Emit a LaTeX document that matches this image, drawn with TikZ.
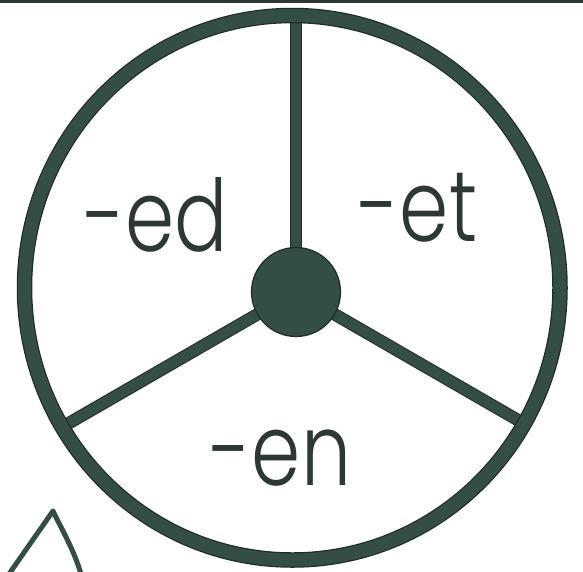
\documentclass[tikz,border=0pt]{standalone}
\usepackage{graphicx}
\usepackage{fontspec}
\newfontfamily\wheelfont{Poppins Light}
\definecolor{wheelgreen}{RGB}{52,78,68}
\definecolor{wheeledge}{RGB}{30,45,40}
\definecolor{inkgray}{RGB}{45,55,52}
\newcommand\wheeltext[1]{\scalebox{0.79}[1]{#1}}
\begin{document}
\begin{tikzpicture}[x=1pt,y=-1pt,
  spoke/.style={draw=wheeledge,line width=12.5pt},
  spokein/.style={draw=wheelgreen,line width=10.5pt},
  rimout/.style={draw=wheeledge,line width=15.5pt},
  rimin/.style={draw=wheelgreen,line width=13pt},
  label/.style={anchor=base,inner sep=0pt,text=inkgray,font=\wheelfont\fontsize{100}{100}\selectfont}]
\useasboundingbox[fill=white] (0,0) rectangle (583,571);
% top border line
\fill[inkgray] (0,0) rectangle (583,2.5);
% geometry
\coordinate (c) at (292.25,287.75);
\coordinate (hubc) at (296,292);
\coordinate (top) at (296,16);
\coordinate (left) at (62.2,427);
\coordinate (right) at (523.8,423.5);
% spokes
\draw[spoke] (hubc) -- (top);
\draw[spoke] (hubc) -- (left);
\draw[spoke] (hubc) -- (right);
\draw[spokein] (hubc) -- (top);
\draw[spokein] (hubc) -- (left);
\draw[spokein] (hubc) -- (right);
% rim
\draw[rimout] (c) ellipse [x radius=267.75, y radius=272.25];
\draw[rimin] (c) ellipse [x radius=267.75, y radius=272.25];
% hub
\node[circle,fill=wheelgreen,draw=wheeledge,line width=1.2pt,minimum size=89pt,inner sep=0pt] (hub) at (hubc) {};
% labels
\node[label] (ed) at (156,251) {\wheeltext{-ed}};
\node[label] (et) at (418,241) {\wheeltext{-et}};
\node[label] (en) at (281,485) {\wheeltext{-en}};
% partial shape bottom left
\coordinate (apex) at (53,511);
\coordinate (bl) at (9,574);
\coordinate (br) at (81,574);
\draw[draw=wheelgreen,line width=5pt,line join=round] (bl) -- (apex) .. controls (62,530) and (74,550) .. (br);
\end{tikzpicture}
\end{document}
